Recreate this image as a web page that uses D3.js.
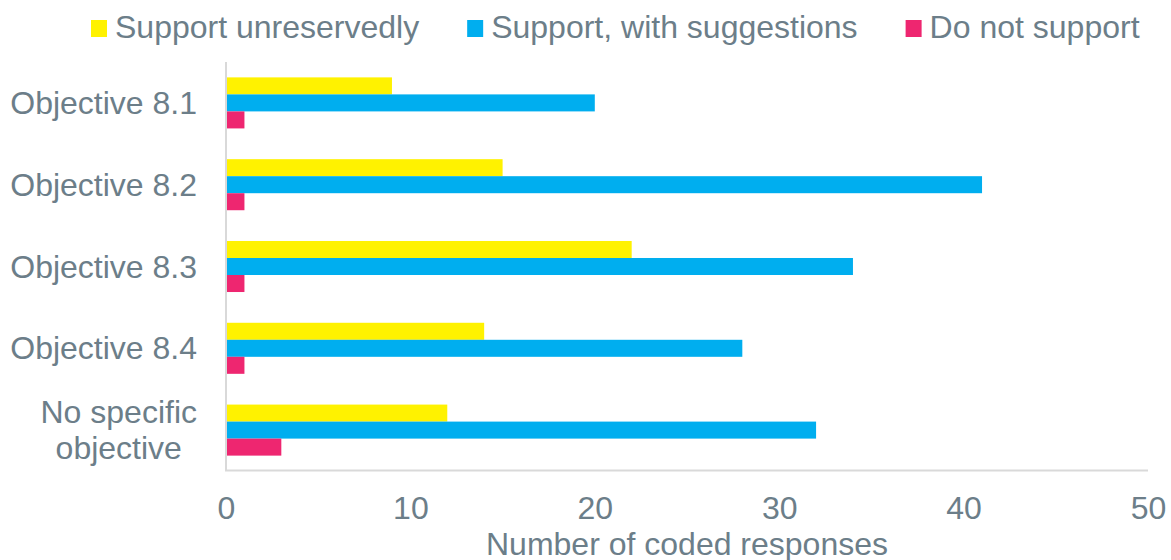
<!DOCTYPE html>
<html>
<head>
<meta charset="utf-8">
<script src="https://cdn.jsdelivr.net/npm/d3@7"></script>
<style>
  html, body { margin: 0; padding: 0; background: #fff; }
  svg { display: block; font-family: "Liberation Sans", Arial, sans-serif; }
</style>
</head>
<body>
<svg id="chart" width="1171" height="560"></svg>
<script>
// Categories (top to bottom) and response counts per series
const categories = ["Objective 8.1", "Objective 8.2", "Objective 8.3", "Objective 8.4", "No specific\nobjective"];
const seriesNames = ["Support unreservedly", "Support, with suggestions", "Do not support"];
const supportUnreservedly = [9, 15, 22, 14, 12];
const supportWithSuggestions = [20, 41, 34, 28, 32];
const doNotSupport = [1, 1, 1, 1, 3];
const xTicks = [0, 10, 20, 30, 40, 50];
const xTitle = "Number of coded responses";

const seriesValues = [supportUnreservedly, supportWithSuggestions, doNotSupport];
const colors = ["#FFF200", "#00AEEF", "#EE2670"];
const textColor = "#6C7E89";
const axisColor = "#D9D9D9";
const fontSize = 32;

const svg = d3.select("#chart");

const x = d3.scaleLinear().domain([0, 50]).range([226, 1148]);
const y = d3.scaleBand().domain(d3.range(categories.length)).range([62, 471])
  .paddingInner(0.376).paddingOuter(0.188);
const ySub = d3.scaleBand().domain(d3.range(seriesNames.length)).range([0, y.bandwidth()]);

// Bars
const groups = svg.append("g").selectAll("g")
  .data(categories.map((c, i) => i))
  .join("g")
  .attr("transform", i => `translate(0,${y(i)})`);

groups.selectAll("rect")
  .data(i => seriesValues.map((vals, s) => ({ s, v: vals[i] })))
  .join("rect")
  .attr("x", x(0))
  .attr("y", d => ySub(d.s))
  .attr("width", d => x(d.v) - x(0))
  .attr("height", ySub.bandwidth())
  .attr("fill", d => colors[d.s]);

// Axis lines
svg.append("line")
  .attr("x1", x(0)).attr("x2", x(0))
  .attr("y1", 62).attr("y2", 471)
  .attr("stroke", axisColor).attr("stroke-width", 2);
svg.append("line")
  .attr("x1", x(0) - 1).attr("x2", x(50))
  .attr("y1", 470.5).attr("y2", 470.5)
  .attr("stroke", axisColor).attr("stroke-width", 2);

// X tick labels via d3 axis
const xAxis = svg.append("g")
  .attr("transform", "translate(0,471)")
  .call(d3.axisBottom(x).tickValues(xTicks).tickSize(0).tickPadding(0).tickFormat(d3.format("d")));
xAxis.select(".domain").remove();
xAxis.selectAll("text")
  .attr("y", 48).attr("dy", null)
  .attr("fill", textColor)
  .style("font-size", fontSize + "px")
  .style("font-family", "'Liberation Sans', Arial, sans-serif");

// X axis title
svg.append("text")
  .attr("x", (x(0) + x(50)) / 2).attr("y", 555)
  .attr("text-anchor", "middle")
  .attr("fill", textColor)
  .style("font-size", fontSize + "px")
  .text(xTitle);

// Category labels: block right-aligned, lines centred within the block
const labelRight = 197;
const lineHeight = 36;
categories.forEach((c, i) => {
  const lines = c.split("\n");
  const g = svg.append("g");
  const texts = lines.map(l => g.append("text")
    .attr("fill", textColor)
    .style("font-size", fontSize + "px")
    .attr("text-anchor", "middle")
    .text(l));
  const maxW = d3.max(texts, t => t.node().getComputedTextLength());
  const cx = labelRight - maxW / 2;
  const cy = y(i) + y.bandwidth() / 2;
  const firstBase = cy + 11 - (lines.length - 1) * lineHeight / 2;
  texts.forEach((t, k) => t.attr("x", cx).attr("y", firstBase + k * lineHeight));
});

// Legend
let lx = 91;
const legend = svg.append("g");
seriesNames.forEach((name, s) => {
  legend.append("rect")
    .attr("x", lx).attr("y", 20).attr("width", 16).attr("height", 17)
    .attr("fill", colors[s]);
  const t = legend.append("text")
    .attr("x", lx + 24).attr("y", 38)
    .attr("fill", textColor)
    .style("font-size", fontSize + "px")
    .text(name);
  lx = lx + 24 + t.node().getComputedTextLength() + 48;
});
</script>
</body>
</html>
